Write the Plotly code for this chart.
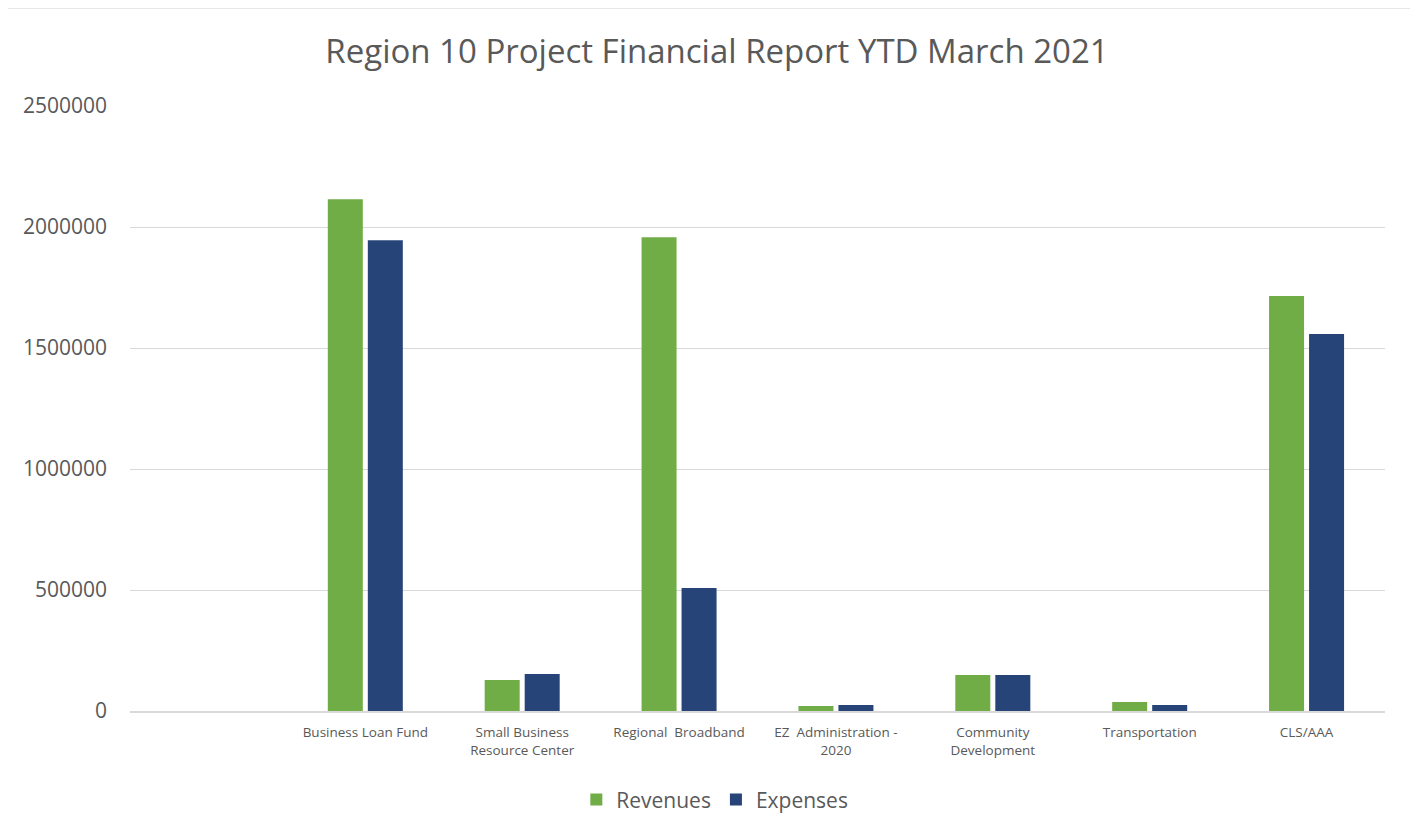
import plotly.graph_objects as go

categories = [" ", "Business Loan Fund", "Small Business<br>Resource Center", "Regional  Broadband",
              "EZ  Administration -<br>2020", "Community<br>Development", "Transportation", "CLS/AAA"]
revenues = [None, 2115000, 128000, 1958000, 21000, 149000, 37000, 1715000]
expenses = [None, 1945000, 153000, 508000, 25000, 149000, 25000, 1558000]
y_ticks = [0, 500000, 1000000, 1500000, 2000000, 2500000]

font_family = "Open Sans, Liberation Sans, sans-serif"
text_color = "#595959"

fig = go.Figure()
fig.add_trace(go.Bar(name="Revenues", x=categories, y=revenues, marker=dict(color="#70AD47", line=dict(width=0))))
fig.add_trace(go.Bar(name="Expenses", x=categories, y=expenses, marker=dict(color="#264478", line=dict(width=0))))

fig.update_layout(
    width=1418, height=833,
    paper_bgcolor="white", plot_bgcolor="white",
    barmode="group", bargap=0.49, bargroupgap=0.125,
    margin=dict(l=122, r=41, t=98, b=130),
    title=dict(text="Region 10 Project Financial Report YTD March 2021",
               x=0.5, xanchor="center", y=0.948, yanchor="middle",
               font=dict(family=font_family, size=33, color=text_color)),
    font=dict(family=font_family, color=text_color),
    legend=dict(orientation="h", x=0.466, xanchor="center", y=-0.147, yanchor="middle",
                font=dict(size=21, color=text_color), itemwidth=30, traceorder="normal"),
    xaxis=dict(type="category", categoryorder="array", categoryarray=categories,
               tickfont=dict(size=13.5, color=text_color), showgrid=False,
               showline=True, linecolor="#d9d9d9", linewidth=1.5, ticks="",
               ticklabelstandoff=8),
    yaxis=dict(range=[0, 2500000], tickvals=y_ticks, ticktext=[str(v) for v in y_ticks],
               tickfont=dict(size=21, color=text_color), showgrid=True, gridcolor="#d9d9d9",
               gridwidth=1, zeroline=False, ticks="", ticklen=0, ticklabelstandoff=22,
               showline=False),
    shapes=[dict(type="rect", xref="paper", yref="paper", x0=-0.0988, x1=1.0247, y0=-0.3, y1=1.163,
                 line=dict(color="#d0d0d0", width=2), fillcolor="rgba(0,0,0,0)", layer="above")],
)

fig.write_html("out.html")
